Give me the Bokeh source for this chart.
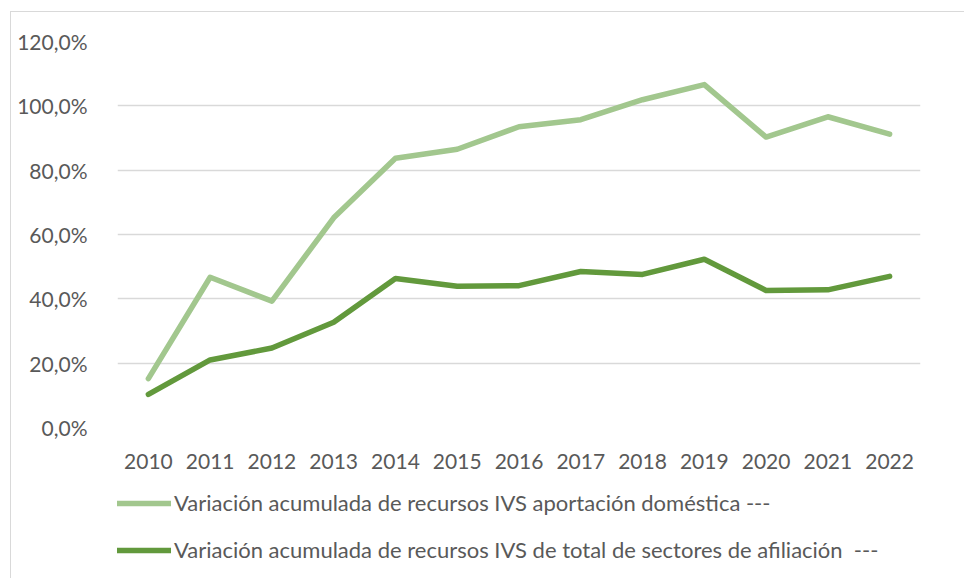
from bokeh.plotting import figure
from bokeh.layouts import column
from bokeh.models import Legend, LegendItem, FixedTicker
from bokeh.embed import file_html
from bokeh.resources import INLINE

years = [str(y) for y in range(2010, 2023)]
domestica = [15.2, 46.7, 39.3, 65.2, 83.7, 86.5, 93.5, 95.7, 101.9, 106.6, 90.3, 96.6, 91.2]
total = [10.3, 21.0, 24.7, 32.7, 46.3, 43.9, 44.1, 48.5, 47.6, 52.3, 42.6, 42.8, 47.0]
y_ticks = [0, 20, 40, 60, 80, 100, 120]
y_tick_labels = ["0,0%", "20,0%", "40,0%", "60,0%", "80,0%", "100,0%", "120,0%"]
series_labels = [
    "Variación acumulada de recursos IVS aportación doméstica ---",
    "Variación acumulada de recursos IVS de total de sectores de afiliación  ---",
]
colors = ["#A2C78E", "#62993C"]

FONT = "Lato"
TXT = "#595959"
W = 953

# ---- main chart ----
p = figure(
    x_range=years, y_range=(0, 120),
    width=W, height=468,
    output_backend="svg", toolbar_location=None,
    min_border_left=106, min_border_right=44, min_border_top=29, min_border_bottom=53,
)
p.outline_line_color = None
p.background_fill_color = "white"
p.border_fill_color = "white"

p.line(years, domestica, line_width=5.5, color=colors[0], line_join="round", line_cap="round")
p.line(years, total, line_width=5.5, color=colors[1], line_join="round", line_cap="round")

p.xgrid.grid_line_color = None
p.ygrid.grid_line_color = "#D9D9D9"
p.ygrid.grid_line_width = 1.5
p.yaxis.ticker = FixedTicker(ticks=y_ticks)
p.yaxis.major_label_overrides = {t: l for t, l in zip(y_ticks, y_tick_labels)}

for ax in (p.xaxis[0], p.yaxis[0]):
    ax.axis_line_color = None
    ax.major_tick_line_color = None
    ax.minor_tick_line_color = None
    ax.major_label_text_font = FONT
    ax.major_label_text_font_size = "21px"
    ax.major_label_text_color = TXT
p.yaxis.major_label_standoff = 24
p.xaxis.major_label_standoff = 20

# ---- legend strip (same series, kept out of its view; only the legend shows) ----
lg = figure(
    x_range=years, y_range=(1000, 1100),
    width=W, height=98,
    output_backend="svg", toolbar_location=None,
    x_axis_type=None, y_axis_type=None,
    min_border_left=106, min_border_right=44, min_border_top=0, min_border_bottom=0,
)
lg.outline_line_color = None
lg.grid.grid_line_color = None
l1 = lg.line(years, domestica, line_width=5.5, color=colors[0], line_cap="round")
l2 = lg.line(years, total, line_width=5.5, color=colors[1], line_cap="round")

legend = Legend(
    items=[LegendItem(label=series_labels[0], renderers=[l1]),
           LegendItem(label=series_labels[1], renderers=[l2])],
    location=(-1, 15),
    orientation="vertical",
    glyph_width=55, glyph_height=24, label_height=24,
    label_standoff=3, spacing=20, padding=0, margin=0,
    label_text_font=FONT, label_text_font_size="22px", label_text_color=TXT,
    border_line_color=None, background_fill_alpha=0,
)
lg.add_layout(legend, "center")

layout = column(
    p, lg, spacing=0,
    margin=(11, 0, 0, 10),
    styles={"border-left": "1.5px solid #D9D9D9", "border-top": "1.5px solid #D9D9D9"},
)

open("out.html", "w").write(file_html(layout, INLINE))
